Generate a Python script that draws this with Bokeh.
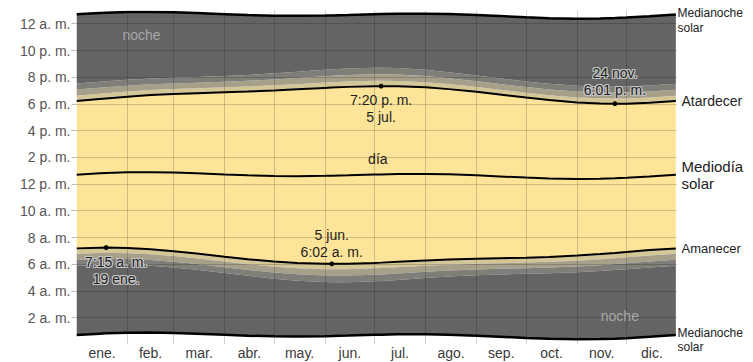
from bokeh.plotting import figure
from bokeh.layouts import row
from bokeh.models import Label, FixedTicker, Range1d, ColumnDataSource
from bokeh.embed import file_html
from bokeh.resources import INLINE

# ---- data (day of year, times in minutes after midnight) ----
days = [0, 14, 18, 31, 45, 59, 73, 90, 104, 120, 134, 151, 155, 165, 181, 185,
        195, 212, 226, 243, 257, 273, 287, 304, 318, 327, 334, 348, 364]
sunrise = [431.7, 434.9, 435.2, 433.3, 427.5, 419.0, 408.3, 394.3, 383.0, 372.4,
           366.0, 362.4, 362.2, 362.8, 366.5, 367.7, 371.1, 377.0, 381.3, 384.8,
           387.2, 390.0, 393.2, 399.2, 406.1, 411.3, 415.6, 423.9, 431.6]
sunset = [1093.9, 1102.7, 1105.2, 1112.9, 1120.1, 1125.0, 1128.9, 1132.9, 1136.2,
          1141.0, 1146.0, 1152.4, 1153.8, 1157.0, 1160.1, 1160.3, 1159.9, 1154.8,
          1146.9, 1134.6, 1122.6, 1109.0, 1097.8, 1087.2, 1082.3, 1081.3, 1081.6,
          1085.5, 1093.4]
solar_noon = [762.8, 768.8, 770.2, 773.1, 773.8, 772.0, 768.6, 763.6, 759.6, 756.7,
              756.0, 757.4, 758.0, 759.9, 763.3, 764.0, 765.5, 765.9, 764.1, 759.7,
              754.9, 749.5, 745.5, 743.2, 744.2, 746.3, 748.6, 754.7, 762.5]
civil_min = [23.7, 23.5, 23.4, 23.0, 22.5, 22.1, 21.8, 21.9, 22.2, 22.8, 23.3, 23.9,
             24.1, 24.3, 24.3, 24.2, 24.0, 23.2, 22.7, 22.1, 21.8, 21.8, 22.1, 22.6,
             23.2, 23.4, 23.6, 23.7, 23.7]
nautical_min = [27.2, 26.9, 26.8, 26.4, 25.9, 25.5, 25.3, 25.4, 25.9, 26.8, 27.6, 28.5,
                28.6, 28.8, 28.8, 28.7, 28.4, 27.5, 26.6, 25.8, 25.4, 25.3, 25.5, 26.0,
                26.5, 26.8, 27.0, 27.2, 27.2]
astro_min = [26.9, 26.7, 26.6, 26.2, 25.9, 25.6, 25.4, 25.6, 26.1, 27.2, 28.3, 29.3,
             29.5, 29.7, 29.7, 29.6, 29.2, 28.1, 27.0, 26.0, 25.5, 25.4, 25.6, 26.0,
             26.4, 26.6, 26.8, 26.9, 26.9]

month_starts = [0, 31, 59, 90, 120, 151, 181, 212, 243, 273, 304, 334, 365]
month_labels = ["ene.", "feb.", "mar.", "abr.", "may.", "jun.", "jul.", "ago.",
                "sep.", "oct.", "nov.", "dic."]
hour_ticks = [2, 4, 6, 8, 10, 12, 14, 16, 18, 20, 22, 24]
hour_labels = ["2 a. m.", "4 a. m.", "6 a. m.", "8 a. m.", "10 a. m.", "12 p. m.",
               "2 p. m.", "4 p. m.", "6 p. m.", "8 p. m.", "10 p. m.", "12 a. m."]

ext_days = [18, 155, 185, 327]
ext_times = [435.2, 362.2, 1160.3, 1081.3]
ext_texts = ["7:15 a. m.\n19 ene.", "5 jun.\n6:02 a. m.", "7:20 p. m.\n5 jul.",
             "24 nov.\n6:01 p. m."]

# ---- build table ----
h = lambda m: m / 60.0
rise = [h(v) for v in sunrise]
sset = [h(v) for v in sunset]
noon = [h(v) for v in solar_noon]
mid_lo = [n - 12 for n in noon]
mid_hi = [n + 12 for n in noon]
dusk_c = [s + h(c) for s, c in zip(sset, civil_min)]
dusk_n = [d + h(n) for d, n in zip(dusk_c, nautical_min)]
dusk_a = [d + h(a) for d, a in zip(dusk_n, astro_min)]
dawn_c = [r - h(c) for r, c in zip(rise, civil_min)]
dawn_n = [d - h(n) for d, n in zip(dawn_c, nautical_min)]
dawn_a = [d - h(a) for d, a in zip(dawn_n, astro_min)]

src = ColumnDataSource(dict(x=days, rise=rise, sset=sset, noon=noon, lo=mid_lo, hi=mid_hi,
                            dc=dusk_c, dn=dusk_n, da=dusk_a, wc=dawn_c, wn=dawn_n, wa=dawn_a))

FONT = "Liberation Sans"
DAY = "#FDE499"
CIV = "#D3C697"
NAU = "#A6A08A"
AST = "#807E78"
NIGHT = "#646464"

# layout constants (pixels)
FW, FH, TOP, BOTTOM, LEFT, RIGHTW = 601, 334, 10, 18, 76, 76
Y0, Y1 = 0.0, 25.0

p = figure(frame_width=FW, frame_height=FH, x_range=Range1d(0, 365), y_range=Range1d(Y0, Y1),
           output_backend="svg", toolbar_location=None, title=None,
           min_border_left=LEFT, min_border_right=0, min_border_top=TOP,
           min_border_bottom=BOTTOM)
p.outline_line_color = None
p.frame_align = False

p.varea(x="x", y1="rise", y2="sset", source=src, fill_color=DAY)
p.varea(x="x", y1="sset", y2="dc", source=src, fill_color=CIV)
p.varea(x="x", y1="dc", y2="dn", source=src, fill_color=NAU)
p.varea(x="x", y1="dn", y2="da", source=src, fill_color=AST)
p.varea(x="x", y1="da", y2="hi", source=src, fill_color=NIGHT)
p.varea(x="x", y1="wc", y2="rise", source=src, fill_color=CIV)
p.varea(x="x", y1="wn", y2="wc", source=src, fill_color=NAU)
p.varea(x="x", y1="wa", y2="wn", source=src, fill_color=AST)
p.varea(x="x", y1="lo", y2="wa", source=src, fill_color=NIGHT)

for col, w in [("rise", 2), ("sset", 2), ("noon", 2), ("lo", 2.5), ("hi", 2.5)]:
    p.line(x="x", y=col, source=src, line_color="black", line_width=w)

p.scatter(x=ext_days, y=[h(v) for v in ext_times], size=4, color="black")

# axes
mids = [(a + b) / 2 for a, b in zip(month_starts[:-1], month_starts[1:])]
p.xaxis.ticker = FixedTicker(ticks=mids)
p.xaxis.major_label_overrides = {m: lab for m, lab in zip(mids, month_labels)}
p.xaxis.major_tick_line_color = None
p.xaxis.minor_tick_line_color = None
p.xaxis.major_tick_out = 0
p.xaxis.major_tick_in = 0
p.xaxis.axis_line_color = None
p.xaxis.major_label_standoff = 0
p.xaxis.major_label_text_font = FONT
p.xaxis.major_label_text_font_size = "14px"
p.xaxis.major_label_text_color = "#3a3a3a"

p.yaxis.ticker = FixedTicker(ticks=hour_ticks)
p.yaxis.major_label_overrides = {t: lab for t, lab in zip(hour_ticks, hour_labels)}
p.yaxis.axis_line_color = None
p.yaxis.minor_tick_line_color = None
p.yaxis.major_tick_line_color = "#bbbbbb"
p.yaxis.major_tick_out = 5
p.yaxis.major_tick_in = 0
p.yaxis.major_label_standoff = 1
p.yaxis.major_label_text_font = FONT
p.yaxis.major_label_text_font_size = "14px"
p.yaxis.major_label_text_color = "#555555"

p.xgrid.ticker = FixedTicker(ticks=month_starts[1:-1])
p.ygrid.ticker = FixedTicker(ticks=hour_ticks)
for g in (p.xgrid, p.ygrid):
    g.grid_line_color = "black"
    g.grid_line_alpha = 0.18
    g.level = "guide"

# annotation labels at extremes (light halo behind the two that sit on the night area)
offsets = [(10, -6, "top", True), (0, 4, "bottom", False), (0, -6, "top", False),
           (0, 6, "bottom", True)]
halo_shifts = [(-1, 0), (1, 0), (0, -1), (0, 1), (-1, -1), (1, 1), (-1, 1), (1, -1)]
for d, t, txt, (xo, yo, bl, halo) in zip(ext_days, ext_times, ext_texts, offsets):
    common = dict(x=d, y=h(t), text=txt, text_align="center", text_baseline=bl,
                  text_font=FONT, text_font_size="14px", text_line_height=1.07)
    if halo:
        for dx, dy in halo_shifts:
            p.add_layout(Label(x_offset=xo + dx, y_offset=yo + dy, text_color="#c4c4c4",
                               **common))
    p.add_layout(Label(x_offset=xo, y_offset=yo, text_color="#1e1e1e", **common))

p.add_layout(Label(x=183, y=13.85, text="día", text_align="center", text_baseline="middle",
                   text_font=FONT, text_font_size="14px", text_color="#222222"))
p.add_layout(Label(x=39.5, y=23.2, text="noche", text_align="center", text_baseline="middle",
                   text_font=FONT, text_font_size="14px", text_color="#a8a8a8"))
p.add_layout(Label(x=330, y=2.1, text="noche", text_align="center", text_baseline="middle",
                   text_font=FONT, text_font_size="14px", text_color="#a8a8a8"))

# right-hand panel for the curve names, same vertical scale as the main frame
ppu = FH / (Y1 - Y0)
H_TOTAL = TOP + FH + BOTTOM
p2 = figure(frame_width=RIGHTW, frame_height=H_TOTAL, x_range=Range1d(0, 1),
            y_range=Range1d(Y0 - BOTTOM / ppu, Y1 + TOP / ppu), title=None,
            output_backend="svg", toolbar_location=None, min_border=0)
p2.axis.visible = False
p2.grid.visible = False
p2.outline_line_color = None
p2.frame_align = False

right = [(mid_hi[-1], "Medianoche\nsolar", "12px", "top", 8, 0, 1.03),
         (sset[-1], "Atardecer", "14px", "middle", 0, 4, 1.1),
         (noon[-1], "Mediodía\nsolar", "15px", "middle", 0, 4, 1.0),
         (rise[-1], "Amanecer", "13px", "middle", 0, 4, 1.1),
         (mid_lo[-1], "Medianoche\nsolar", "12px", "top", 9, 0, 1.03)]
for yv, txt, fs, bl, yo, xo, lh in right:
    p2.add_layout(Label(x=0, y=yv, text=txt, x_offset=xo, y_offset=yo, text_align="left",
                        text_baseline=bl, text_font=FONT, text_font_size=fs,
                        text_color="#222222", text_line_height=lh))

layout = row(p, p2, spacing=0)
open("out.html", "w").write(file_html(layout, INLINE))
